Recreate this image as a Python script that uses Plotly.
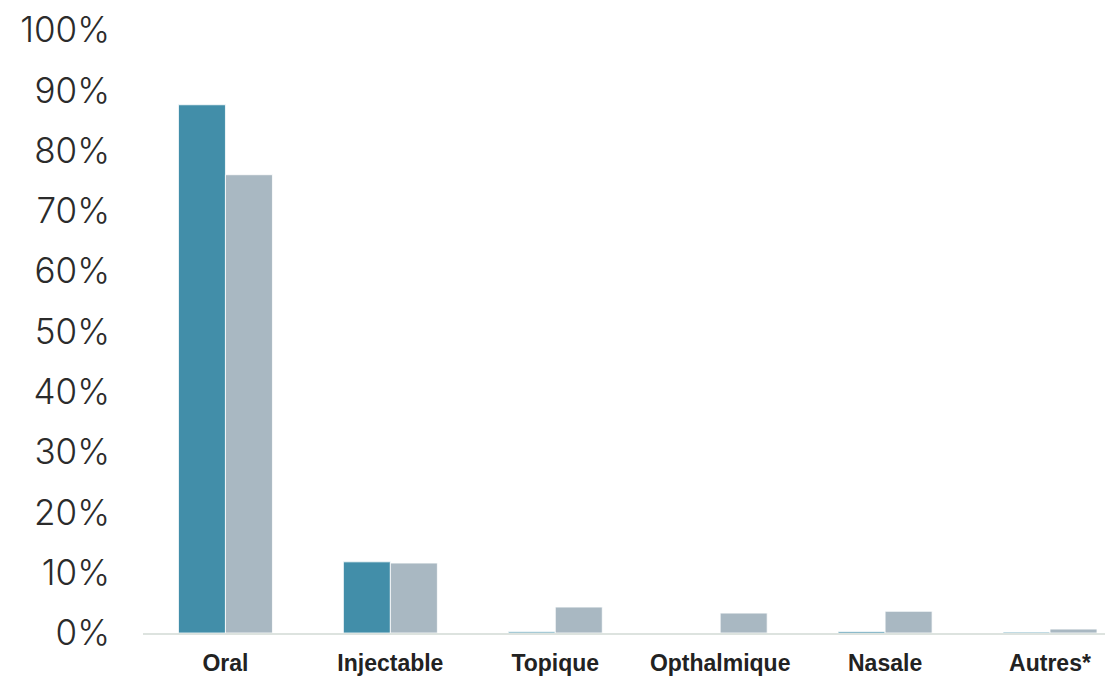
import plotly.graph_objects as go

categories = ["Oral", "Injectable", "Topique", "Opthalmique", "Nasale", "Autres*"]
series_a = [87.6, 11.8, 0.2, 0.0, 0.25, 0.15]
series_b = [76.0, 11.6, 4.3, 3.3, 3.6, 0.65]
y_ticks = [0, 10, 20, 30, 40, 50, 60, 70, 80, 90, 100]
y_labels = [f"{v}%" for v in y_ticks]

fig = go.Figure()
fig.add_trace(go.Bar(x=categories, y=series_a, marker=dict(color="#428EA9", line=dict(color="white", width=0.8)), name="A"))
fig.add_trace(go.Bar(x=categories, y=series_b, marker=dict(color="#A9B8C2", line=dict(color="white", width=0.8)), name="B"))

fig.update_layout(
    width=1105, height=668,
    margin=dict(l=135, r=0, t=22, b=43),
    plot_bgcolor="white", paper_bgcolor="white",
    barmode="group", bargap=0.43, bargroupgap=0,
    showlegend=False,
    xaxis=dict(
        range=[-0.5, 5.382],
        showline=True, linecolor="#DDE3DF", linewidth=2,
        ticks="", showgrid=False,
        tickfont=dict(family="Liberation Sans", size=23, color="#222222", weight="bold"),
        ticklabelstandoff=8,
    ),
    yaxis=dict(
        range=[0, 100],
        tickvals=y_ticks, ticktext=y_labels,
        showgrid=False, zeroline=False, showline=False, ticks="",
        tickfont=dict(family="Inter", size=35, color="#2B2B2B", weight=300),
        ticklabelstandoff=32,
        ticklabeloverflow="allow",
    ),
)

fig.write_html("out.html")
